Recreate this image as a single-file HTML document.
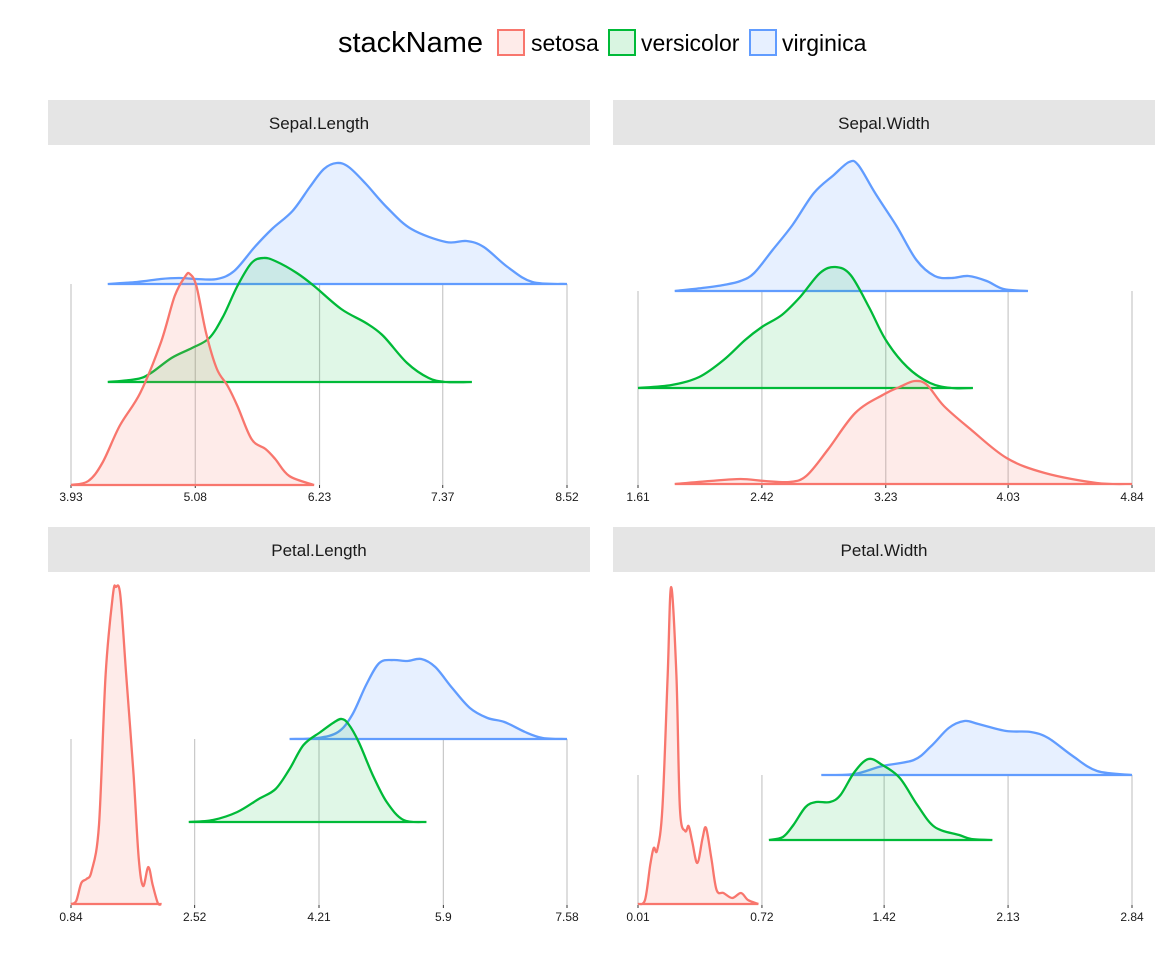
<!DOCTYPE html>
<html><head><meta charset="utf-8"><style>
html,body{margin:0;padding:0;background:#fff;}
svg{display:block;font-family:"Liberation Sans",Arial,sans-serif;}
</style></head><body>
<svg id="chart" width="1166" height="956" viewBox="0 0 1166 956">
<g>
<text x="338" y="52" font-size="29" fill="#000">stackName</text>
<rect x="498" y="30" width="26" height="25" fill="rgba(248,118,109,0.15)" stroke="#F8766D" stroke-width="2"/>
<text x="531" y="51" font-size="23">setosa</text>
<rect x="609" y="30" width="26" height="25" fill="rgba(0,186,56,0.15)" stroke="#00BA38" stroke-width="2"/>
<text x="641" y="51" font-size="23">versicolor</text>
<rect x="750" y="30" width="26" height="25" fill="rgba(97,156,255,0.15)" stroke="#619CFF" stroke-width="2"/>
<text x="782" y="51" font-size="23">virginica</text>
</g>
<g id="panels"></g>
</svg>
<script>
// Sepal.Length
const slSetosaX=[3.93,4.09,4.22,4.38,4.57,4.76,4.89,4.99,5.03,5.09,5.18,5.28,5.38,5.47,5.60,5.73,5.82,5.95,6.18];
const slSetosaY=[0,4,22,59,92,142,189,209,211,199,152,116,99,79,46,36,26,9,0];
const slVersX=[4.27,4.54,4.67,4.86,5.05,5.21,5.34,5.47,5.60,5.71,5.82,6.02,6.18,6.43,6.66,6.82,7.04,7.24,7.40,7.64];
const slVersY=[0,3,9,24,34,44,66,96,119,124,121,109,96,73,59,46,19,4,0,0];
const slVirgX=[4.27,4.54,4.76,4.93,5.09,5.28,5.44,5.63,5.79,5.98,6.14,6.27,6.39,6.50,6.66,6.85,7.08,7.40,7.59,7.75,7.97,8.20,8.52];
const slVirgY=[0,2,5,6,5,5,13,37,55,73,97,115,121,117,100,77,55,42,43,37,17,2,0];
const slTicks=["3.93","5.08","6.23","7.37","8.52"];
// Sepal.Width
const swSetosaX=[1.85,2.08,2.28,2.44,2.60,2.71,2.85,3.03,3.21,3.32,3.42,3.50,3.61,3.79,4.02,4.27,4.61,4.84];
const swSetosaY=[0,3,5,3,2,8,34,71,89,97,103,99,78,54,26,11,1,0];
const swVersX=[1.61,1.83,2.01,2.17,2.31,2.42,2.55,2.67,2.80,2.90,3.00,3.12,3.23,3.37,3.52,3.66,3.80];
const swVersY=[0,3,11,28,48,61,73,91,115,121,113,81,48,21,5,0,0];
const swVirgX=[1.85,2.03,2.17,2.28,2.37,2.49,2.62,2.76,2.89,2.99,3.05,3.16,3.30,3.43,3.55,3.66,3.77,3.89,4.00,4.16];
const swVirgY=[0,3,6,10,18,41,66,98,116,129,126,98,65,31,15,13,15,10,2,0];
const swTicks=["1.61","2.42","3.23","4.03","4.84"];
// Petal.Length
const plSetosaX=[0.84,0.91,0.98,1.05,1.12,1.22,1.31,1.41,1.45,1.51,1.59,1.69,1.76,1.82,1.89,1.95,2.02,2.07];
const plSetosaY=[0,3,21,25,33,79,229,309,317,309,229,129,46,18,37,19,1,0];
const plVersX=[2.44,2.77,3.10,3.39,3.62,3.81,4.00,4.23,4.42,4.52,4.61,4.75,4.94,5.13,5.36,5.67];
const plVersY=[0,2,10,23,33,53,77,90,100,103,98,80,47,20,2,0];
const plVirgX=[3.81,4.19,4.47,4.66,4.85,5.03,5.22,5.41,5.60,5.79,6.02,6.26,6.50,6.73,7.01,7.25,7.58];
const plVirgY=[0,1,7,24,54,76,79,78,80,72,51,31,21,17,7,1,0];
const plTicks=["0.84","2.52","4.21","5.9","7.58"];
// Petal.Width
const pwSetosaX=[0.01,0.05,0.08,0.10,0.12,0.15,0.18,0.20,0.23,0.25,0.28,0.30,0.32,0.35,0.38,0.40,0.43,0.46,0.50,0.55,0.60,0.64,0.70];
const pwSetosaY=[0,4,39,56,54,96,229,317,229,96,73,78,63,41,66,76,46,14,11,6,11,4,0];
const pwVersX=[0.76,0.84,0.90,0.97,1.03,1.11,1.17,1.25,1.33,1.41,1.51,1.61,1.71,1.85,1.92,2.04];
const pwVersY=[0,3,15,33,38,38,45,68,81,75,62,35,13,5,1,0];
const pwVirgX=[1.06,1.25,1.41,1.59,1.69,1.79,1.88,1.96,2.12,2.26,2.36,2.50,2.64,2.84];
const pwVirgY=[0,1,9,15,29,47,54,51,44,43,37,19,4,0];
const pwTicks=["0.01","0.72","1.42","2.13","2.84"];

const COLORS={setosa:"#F8766D",versicolor:"#00BA38",virginica:"#619CFF"};
const FILLS={setosa:"rgba(248,118,109,0.15)",versicolor:"rgba(0,186,56,0.12)",virginica:"rgba(97,156,255,0.15)"};
const NS="http://www.w3.org/2000/svg";
const panels=[
 {name:"Sepal.Length",sx:48,sy:100,px0:71,px1:567,axisY:485,ticks:slTicks,
  series:[["virginica",slVirgX,slVirgY,284],["versicolor",slVersX,slVersY,382],["setosa",slSetosaX,slSetosaY,485]]},
 {name:"Sepal.Width",sx:613,sy:100,px0:638,px1:1132,axisY:485,ticks:swTicks,
  series:[["virginica",swVirgX,swVirgY,291],["versicolor",swVersX,swVersY,388],["setosa",swSetosaX,swSetosaY,484]]},
 {name:"Petal.Length",sx:48,sy:527,px0:71,px1:567,axisY:905,ticks:plTicks,
  series:[["virginica",plVirgX,plVirgY,739],["versicolor",plVersX,plVersY,822],["setosa",plSetosaX,plSetosaY,904]]},
 {name:"Petal.Width",sx:613,sy:527,px0:638,px1:1132,axisY:905,ticks:pwTicks,
  series:[["virginica",pwVirgX,pwVirgY,775],["versicolor",pwVersX,pwVersY,840],["setosa",pwSetosaX,pwSetosaY,904]]}
];
function mk(tag,attrs,parent){const e=document.createElementNS(NS,tag);for(const k in attrs)e.setAttribute(k,attrs[k]);parent.appendChild(e);return e;}
function smooth(pts){let d="M"+pts[0][0]+","+pts[0][1];for(let i=0;i<pts.length-1;i++){const p0=pts[i-1]||pts[i],p1=pts[i],p2=pts[i+1],p3=pts[i+2]||p2;
 const c1x=p1[0]+(p2[0]-p0[0])/6,c1y=p1[1]+(p2[1]-p0[1])/6,c2x=p2[0]-(p3[0]-p1[0])/6,c2y=p2[1]-(p3[1]-p1[1])/6;
 d+=" C"+c1x.toFixed(1)+","+c1y.toFixed(1)+" "+c2x.toFixed(1)+","+c2y.toFixed(1)+" "+p2[0].toFixed(1)+","+p2[1].toFixed(1);}return d;}
const root=document.getElementById("panels");
panels.forEach(p=>{
 const g=mk("g",{},root);
 
 
 const strip=mk("rect",{x:p.sx,y:p.sy,width:542,height:45,fill:"#e5e5e5"},g);
 
 
 const st=mk("text",{x:p.sx+271,y:p.sy+29,"font-size":"17","text-anchor":"middle",fill:"#1a1a1a"},g);
 st.textContent=p.name;
 
 
 const t0=parseFloat(p.ticks[0]),t1=parseFloat(p.ticks[p.ticks.length-1]);
 const xs=v=>p.px0+(v-t0)/(t1-t0)*(p.px1-p.px0);
 const topY=Math.min(...p.series.map(s=>s[3]));
 p.ticks.forEach(t=>{
  const x=xs(parseFloat(t));
  const gl=mk("line",{x1:x,x2:x,y1:topY,y2:p.axisY,stroke:"#c8c8c8","stroke-width":1.2},g);
  
  
  const tk=mk("line",{x1:x,x2:x,y1:p.axisY,y2:p.axisY+3,stroke:"#333","stroke-width":1},g);
  
  
  const tl=mk("text",{x:x,y:p.axisY+16,"font-size":"12","text-anchor":"middle",fill:"#1a1a1a"},g);
  tl.textContent=t;
  
  
 });
 p.series.forEach(s=>{
  const [sp,X,Y,base]=s;
  const pts=X.map((v,i)=>[xs(v),base-Y[i]]);
  const d=smooth(pts);
  const x0=xs(X[0]),x1=xs(X[X.length-1]);
  const area=mk("path",{d:d+" L"+x1+","+base+" L"+x0+","+base+" Z",fill:FILLS[sp],stroke:"none"},g);
  
  
  const line=mk("path",{d:d+" M"+x0+","+base+" L"+x1+","+base,fill:"none",stroke:COLORS[sp],"stroke-width":2.3,"stroke-linejoin":"round"},g);
  
  
 });
});
</script>
</body></html>
